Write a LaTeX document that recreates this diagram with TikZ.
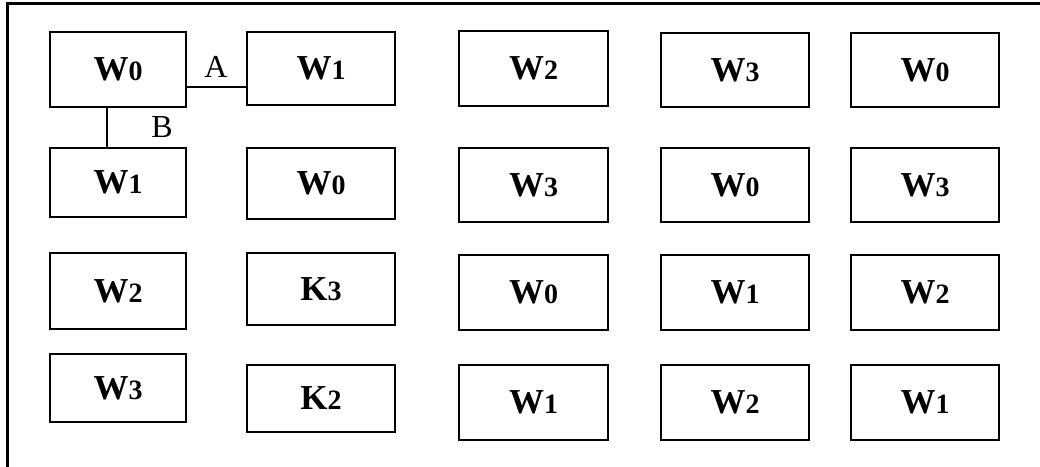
\documentclass[tikz,border=0pt]{standalone}
\usepackage{fontspec}
\setmainfont{Liberation Serif}
\newcommand{\lbl}[2]{{\fontsize{35}{38}\selectfont\bfseries #1}{\fontsize{28}{30}\selectfont\bfseries #2}}
\begin{document}
\begin{tikzpicture}[x=1pt,y=-1pt,
  cell/.style={draw, line width=1.3pt, inner sep=0pt, rectangle},
  lab/.style={inner sep=0pt, font=\fontsize{32}{34}\selectfont},
  conn/.style={line width=1.3pt}]
\useasboundingbox (0,0) rectangle (1040,466);
\draw[line width=2.2pt] (1041,3.5) -- (7.5,3.5) -- (7.5,467);
\newcommand{\cellbox}[6]{\node[cell, minimum width=#4-#2, minimum height=#5-#3] (#1) at ({(#2+#4)/2},{(#3+#5)/2}) {#6};}
\cellbox{n11}{50}{32}{186}{107}{\lbl{W}{0}}
\cellbox{n12}{247}{32}{395}{105}{\lbl{W}{1}}
\cellbox{n13}{459}{31}{608}{106}{\lbl{W}{2}}
\cellbox{n14}{661}{33}{809}{107}{\lbl{W}{3}}
\cellbox{n15}{851}{33}{999}{107}{\lbl{W}{0}}
\cellbox{n21}{50}{148}{186}{217}{\lbl{W}{1}}
\cellbox{n22}{247}{148}{395}{219}{\lbl{W}{0}}
\cellbox{n23}{459}{148}{608}{222}{\lbl{W}{3}}
\cellbox{n24}{661}{148}{809}{222}{\lbl{W}{0}}
\cellbox{n25}{851}{148}{999}{222}{\lbl{W}{3}}
\cellbox{n31}{50}{253}{186}{329}{\lbl{W}{2}}
\cellbox{n32}{247}{253}{395}{325}{\lbl{K}{3}}
\cellbox{n33}{459}{255}{608}{330}{\lbl{W}{0}}
\cellbox{n34}{661}{255}{809}{330}{\lbl{W}{1}}
\cellbox{n35}{851}{255}{999}{330}{\lbl{W}{2}}
\cellbox{n41}{50}{354}{186}{422}{\lbl{W}{3}}
\cellbox{n42}{247}{365}{395}{432}{\lbl{K}{2}}
\cellbox{n43}{459}{365}{608}{440}{\lbl{W}{1}}
\cellbox{n44}{661}{365}{809}{440}{\lbl{W}{2}}
\cellbox{n45}{851}{365}{999}{440}{\lbl{W}{1}}
\draw[conn] ([yshift=-17.5pt]n11.east) -- ([yshift=-18.5pt]n12.west);
\draw[conn] ([xshift=-11pt]n11.south) -- ([xshift=-11pt]n21.north);
\node[lab] (la) at (216,67) {A};
\node[lab] (lb) at (162,127) {B};
\end{tikzpicture}
\end{document}
